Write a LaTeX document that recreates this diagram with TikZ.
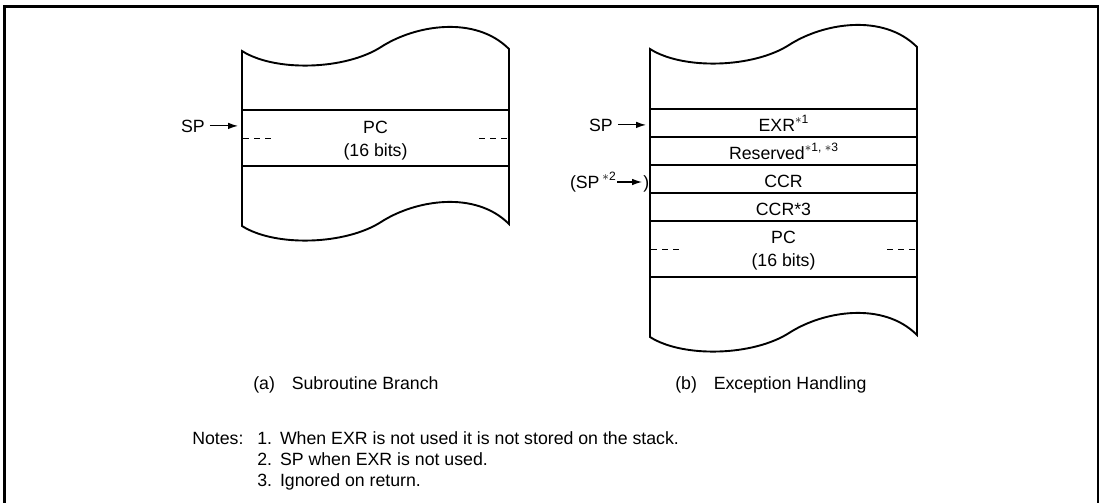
\documentclass[tikz,border=0pt]{standalone}
\usepackage{fontspec}
\setmainfont{Liberation Sans}
\usetikzlibrary{arrows.meta}
\newcommand{\supnote}[1]{\raisebox{0.42em}{\fontsize{8.6}{9}\selectfont #1}}

\begin{document}
\begin{tikzpicture}[x=0.025cm,y=-0.025cm,
  lbl/.style={inner sep=0pt,font=\fontsize{12.6}{16.3}\selectfont},
  stackline/.style={line width=1.35pt},
  rowline/.style={line width=1.15pt},
  dashline/.style={line width=0.6pt,dash pattern=on 4.3pt off 3.6pt},
  sparrow/.style={line width=0.8pt,-{Latex[length=7pt,width=4.6pt]}}]
\useasboundingbox (0,0) rectangle (1104,502);
% frame, open at the bottom
\draw[line width=2.1pt] (4.5,520) -- (4.5,6.5) -- (1098,6.5) -- (1098,520);

% (a) subroutine branch
\draw[stackline] (242,51) .. controls (275,72) and (345,70) .. (381,47)
  .. controls (415,25) and (475,15) .. (509,49) -- (509,224)
  .. controls (475,190) and (415,200) .. (381,222)
  .. controls (345,245) and (275,247) .. (242,226) -- cycle;
\draw[rowline] (242,110) -- (509,110);
\draw[rowline] (242,166) -- (509,166);
\draw[dashline] (243,138) -- (271,138);
\draw[dashline] (479,138) -- (507,138);
\node[lbl,align=center] (pca) at (375.5,141) {PC\\(16 bits)};

\node[lbl,anchor=base east] (spa) at (205,132) {SP};
\coordinate (tipa) at (238,126);
\draw[sparrow] ([xshift=3.5pt]spa.east) -- (spa.east -| tipa);

% (b) exception handling
\draw[stackline] (650,49) .. controls (683,70) and (753,68) .. (789,45)
  .. controls (823,23) and (883,13) .. (917,47) -- (917,335)
  .. controls (883,301) and (823,311) .. (789,333)
  .. controls (753,356) and (683,358) .. (650,337) -- cycle;
\foreach \y in {109,137,165,193,221,277}
  \draw[rowline] (650,\y) -- (917,\y);
\draw[dashline] (651,249) -- (679,249);
\draw[dashline] (887,249) -- (915,249);

\node[lbl,anchor=base] (exr) at (783.5,131) {EXR\supnote{$\ast$1}};
\node[lbl,anchor=base] (rsv) at (783.5,159) {Reserved\supnote{$\ast$1, $\ast$3}};
\node[lbl,anchor=base] (ccr) at (783.5,187) {CCR};
\node[lbl,anchor=base] (ccrx) at (783.5,215) {CCR*3};
\node[lbl,align=center] (pcb) at (783.5,251) {PC\\(16 bits)};

\node[lbl,anchor=base east] (spb) at (613,131) {SP};
\coordinate (tipb) at (646,125);
\draw[sparrow] ([xshift=3.5pt]spb.east) -- (spb.east -| tipb);

\node[lbl,anchor=base east] (spx) at (616,188) {(SP\,\supnote{$\ast$2}};
\node[lbl,anchor=base west] (spxr) at (643,188) {)};
\coordinate (tipx) at (642,182);
\draw[sparrow] (spx.base east) ++(1,-6) -- (tipx);

% captions
\node[lbl,anchor=base west] (capa) at (253,389) {(a)\hspace{0.95em}Subroutine Branch};
\node[lbl,anchor=base west] (capb) at (675,389) {(b)\hspace{0.95em}Exception Handling};

% notes
\node[lbl,anchor=base west] (notes) at (192,444) {Notes:};
\node[lbl,anchor=base west] (note1) at (257,444) {1.\hspace{0.45em}When EXR is not used it is not stored on the stack.};
\node[lbl,anchor=base west] (note2) at (257,465) {2.\hspace{0.45em}SP when EXR is not used.};
\node[lbl,anchor=base west] (note3) at (257,486) {3.\hspace{0.45em}Ignored on return.};
\end{tikzpicture}
\end{document}
